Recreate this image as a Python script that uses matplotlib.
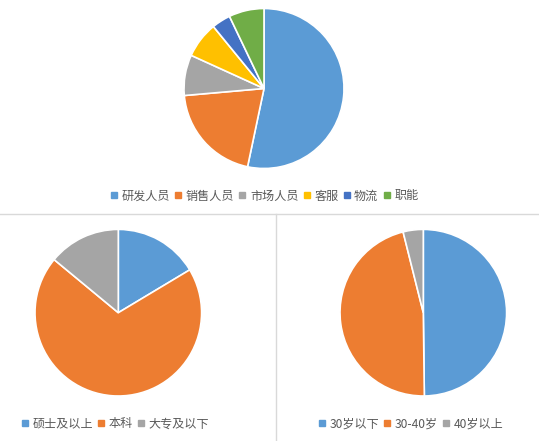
import matplotlib
matplotlib.use("Agg")
import matplotlib.pyplot as plt
from matplotlib.lines import Line2D

plt.rcParams['font.family'] = ['Noto Sans CJK SC', 'DejaVu Sans']

# Data
role_labels = ['研发人员', '销售人员', '市场人员', '客服', '物流', '职能']
role_values = [53.3, 20.3, 8.2, 7.3, 3.8, 7.1]
edu_labels = ['硕士及以上', '本科', '大专及以下']
edu_values = [16.4, 69.6, 14.0]
age_labels = ['30岁以下', '30-40岁', '40岁以上']
age_values = [49.8, 46.3, 3.9]

colors6 = ['#5B9BD5', '#ED7D31', '#A5A5A5', '#FFC000', '#4472C4', '#70AD47']

W, H = 539, 441
fig = plt.figure(figsize=(W / 100, H / 100), dpi=100)
fig.patch.set_facecolor('white')


def pie_ax(cx, cy, r, values, cols):
    ax = fig.add_axes([(cx - r) / W, (H - cy - r) / H, 2 * r / W, 2 * r / H])
    ax.pie(values, colors=cols, startangle=90, counterclock=False,
           wedgeprops=dict(edgecolor='white', linewidth=1.2))
    ax.set_xlim(-1.0, 1.0)
    ax.set_ylim(-1.0, 1.0)
    ax.set_aspect('equal')
    ax.axis('off')
    return ax


def legend_at(labels, cols, cx, cy):
    handles = [Line2D([], [], marker='s', linestyle='none', markersize=4.3,
                      markerfacecolor=c, markeredgecolor=c) for c in cols]
    fig.legend(handles, labels, loc='center', bbox_to_anchor=(cx / W, 1 - cy / H),
               ncol=len(labels), frameon=False, fontsize=8.7, handlelength=0.55,
               handletextpad=0.35, columnspacing=0.4, labelcolor='#595959',
               borderaxespad=0, borderpad=0)


pie_ax(264, 88.5, 80, role_values, colors6)
pie_ax(118.3, 312.7, 83.3, edu_values, colors6[:3])
pie_ax(423.3, 312.7, 83.3, age_values, colors6[:3])

legend_at(role_labels, colors6, 264.5, 196)
legend_at(edu_labels, colors6[:3], 115.5, 424)
legend_at(age_labels, colors6[:3], 411, 424)

# separator lines
fig.add_artist(Line2D([0, 1], [1 - 214.3 / H, 1 - 214.3 / H], color='#D9D9D9', linewidth=1.0))
fig.add_artist(Line2D([276 / W, 276 / W], [0, 1 - 214.3 / H], color='#D9D9D9', linewidth=1.0))

fig.savefig('out.png', dpi=100, facecolor='white')
